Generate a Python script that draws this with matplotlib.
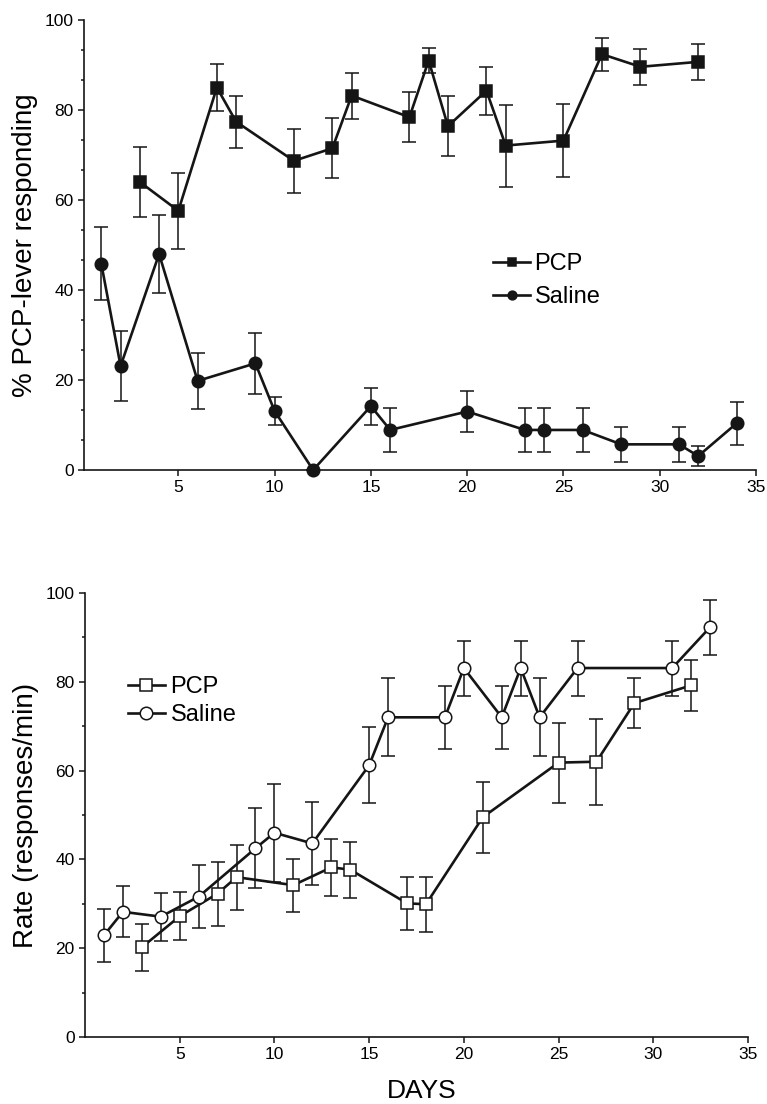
import matplotlib.pyplot as plt
from matplotlib.ticker import MultipleLocator

plt.rcParams['font.family'] = ['Liberation Sans', 'DejaVu Sans']

# top panel: % PCP-lever responding
top_pcp_days = [3, 5, 7, 8, 11, 13, 14, 17, 18, 19, 21, 22, 25, 27, 29, 32]
top_pcp_vals = [64, 57.6, 85, 77.4, 68.7, 71.5, 83.2, 78.4, 91, 76.4, 84.3, 72.1, 73.2, 92.4, 89.6, 90.7]
top_pcp_err = [7.8, 8.5, 5.2, 5.8, 7.1, 6.7, 5.1, 5.5, 2.8, 6.7, 5.3, 9.1, 8.1, 3.7, 4, 4]

top_sal_days = [1, 2, 4, 6, 9, 10, 12, 15, 16, 20, 23, 24, 26, 28, 31, 32, 34]
top_sal_vals = [45.8, 23.1, 48, 19.8, 23.7, 13.1, 0, 14.2, 8.9, 13, 8.9, 8.9, 8.9, 5.7, 5.7, 3.1, 10.4]
top_sal_err = [8.1, 7.7, 8.7, 6.2, 6.7, 3.2, 0, 4.1, 4.9, 4.6, 4.8, 4.8, 4.8, 3.9, 3.9, 2.3, 4.8]

# bottom panel: response rate
bot_pcp_days = [3, 5, 7, 8, 11, 13, 14, 17, 18, 21, 25, 27, 29, 32]
bot_pcp_vals = [20.2, 27.2, 32.3, 36, 34.2, 38.2, 37.7, 30.1, 29.9, 49.5, 61.8, 62, 75.2, 79.2]
bot_pcp_err = [5.3, 5.4, 7.2, 7.3, 6, 6.5, 6.3, 5.9, 6.2, 8, 9, 9.7, 5.7, 5.8]

bot_sal_days = [1, 2, 4, 6, 9, 10, 12, 15, 16, 19, 20, 22, 23, 24, 26, 31, 33]
bot_sal_vals = [22.9, 28.2, 27.1, 31.6, 42.5, 46, 43.6, 61.2, 72, 72, 83.1, 72, 83.1, 72, 83.1, 83.1, 92.3]
bot_sal_err = [6, 5.75, 5.4, 7.1, 9, 11, 9.3, 8.6, 8.8, 7.1, 6.2, 7.1, 6.2, 8.8, 6.2, 6.2, 6.2]

xticks = [5, 10, 15, 20, 25, 30, 35]
yticks = [0, 20, 40, 60, 80, 100]
ink = '#151515'

W, H = 767, 1104
fig = plt.figure(figsize=(W / 100, H / 100), dpi=100)
ax1 = fig.add_axes([84 / W, 1 - 470 / H, 672 / W, 450 / H])
ax2 = fig.add_axes([85 / W, 1 - 1037 / H, 663 / W, 444 / H])


def series(ax, x, y, e, marker, face, label):
    ax.errorbar(x, y, yerr=e, fmt='none', ecolor=ink, elinewidth=1.1,
                capsize=4.7, capthick=1.1, zorder=2, clip_on=False)
    ax.plot(x, y, color=ink, lw=1.9, marker=marker, ms=9, mfc=face,
            mec=ink, mew=1.1, label=label, zorder=3, clip_on=False)


def style(ax, minor):
    for s in ['top', 'right']:
        ax.spines[s].set_visible(False)
    for s in ['left', 'bottom']:
        ax.spines[s].set_linewidth(1.2)
        ax.spines[s].set_color(ink)
    ax.set_ylim(0, 100)
    ax.set_xticks(xticks)
    ax.set_yticks(yticks)
    ax.yaxis.set_minor_locator(MultipleLocator(minor))
    ax.tick_params(which='major', length=4.5, width=1.1, color=ink,
                   labelsize=12.5, pad=3)
    ax.tick_params(which='minor', axis='y', length=2.3, width=1.1, color=ink)
    ax.tick_params(axis='x', which='minor', bottom=False)


series(ax1, top_pcp_days, top_pcp_vals, top_pcp_err, 's', ink, 'PCP')
series(ax1, top_sal_days, top_sal_vals, top_sal_err, 'o', ink, 'Saline')
ax1.set_xlim(0.1, 35)
style(ax1, 20 / 3)
ax1.set_ylabel('% PCP-lever responding', fontsize=20, va='center')
ax1.yaxis.set_label_coords((25 - 84) / 672, 0.5)
ax1.legend(loc='center left', bbox_to_anchor=(0.609, 0.421), frameon=False,
           fontsize=17, handlelength=1.55, handletextpad=0.2,
           labelspacing=0.45, borderpad=0, borderaxespad=0, markerscale=0.7)

series(ax2, bot_pcp_days, bot_pcp_vals, bot_pcp_err, 's', 'white', 'PCP')
series(ax2, bot_sal_days, bot_sal_vals, bot_sal_err, 'o', 'white', 'Saline')
ax2.set_xlim(0, 35)
style(ax2, 10)
ax2.set_ylabel('Rate (responses/min)', fontsize=20, va='center')
ax2.yaxis.set_label_coords((26 - 85) / 663, 0.5)
ax2.set_xlabel('DAYS', fontsize=19)
ax2.xaxis.set_label_coords((422 - 85) / 663, (1037 - 1091) / 444)
ax2.xaxis.label.set_va('center')
ax2.legend(loc='center left', bbox_to_anchor=(0.065, 0.756), frameon=False,
           fontsize=17, handlelength=1.55, handletextpad=0.25,
           labelspacing=0.25, borderpad=0, borderaxespad=0)

fig.savefig('out.png', dpi=100)
